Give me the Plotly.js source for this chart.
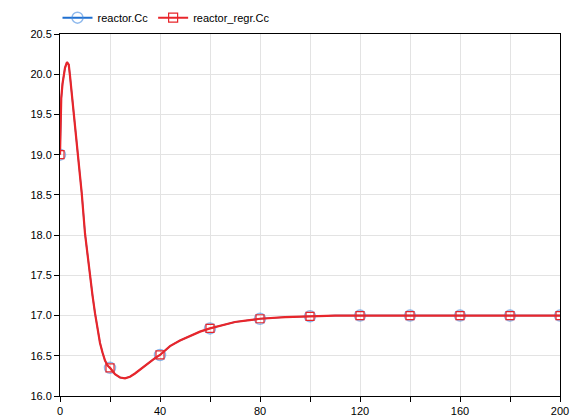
<!DOCTYPE html>
<html>
<head>
<meta charset="utf-8">
<script src="https://cdn.plot.ly/plotly-3.0.1.min.js"></script>
<style>
  html, body { margin: 0; padding: 0; background: #fff; }
  #plot { width: 584px; height: 420px; }
</style>
</head>
<body>
<div id="plot"></div>
<script>
// curve (time, Cc)
var time = [0, 0.2, 0.5, 1, 1.5, 2, 2.8, 3.5, 4, 4.5, 5, 5.6, 6.3, 7, 7.7, 8.7, 10, 11, 12, 13, 14, 15, 16, 17, 18, 19, 20,
  22, 24, 26, 28, 30, 32, 34, 36, 38, 40, 44, 48, 52, 56, 60, 65, 70, 75, 80, 90, 100, 110, 120, 140, 160, 180, 200];
var reactorCc = [19.0, 19.5, 19.7, 19.88, 20.0, 20.08, 20.15, 20.12, 19.98, 19.83, 19.66, 19.47, 19.22, 19.0, 18.83, 18.52, 18.02, 17.75, 17.48, 17.25, 17.03, 16.84, 16.66, 16.54, 16.44, 16.38, 16.35,
  16.27, 16.23, 16.22, 16.24, 16.28, 16.33, 16.38, 16.43, 16.47, 16.51, 16.62, 16.69, 16.75, 16.8, 16.84, 16.88, 16.92, 16.94, 16.96, 16.98, 16.99, 17.0, 17.0, 17.0, 17.0, 17.0, 17.0];
var regrCc = reactorCc.slice();

// marker points every 20 s
var markTime = [0, 20, 40, 60, 80, 100, 120, 140, 160, 180, 200];
var markCc = [19.0, 16.35, 16.51, 16.84, 16.96, 16.99, 17.0, 17.0, 17.0, 17.0, 17.0];

var xTicks = [0, 20, 40, 60, 80, 100, 120, 140, 160, 180, 200];
var xLabels = ["0", "", "40", "", "80", "", "120", "", "160", "", "200"];

var blue = "#1f6fd0";
var blueMark = "rgba(70,140,225,0.6)";
var red = "#e8262b";

var data = [
  { x: time, y: reactorCc, mode: "lines", type: "scatter", showlegend: false, hoverinfo: "skip",
    line: { color: blue, width: 1.4 } },
  { x: markTime, y: markCc, mode: "markers", type: "scatter", showlegend: false,
    marker: { symbol: "circle-open", size: 11, color: blueMark, line: { width: 1.5 } } },
  { x: time, y: regrCc, mode: "lines", type: "scatter", showlegend: false, hoverinfo: "skip",
    line: { color: red, width: 2.2 } },
  { x: markTime, y: markCc, mode: "markers", type: "scatter", showlegend: false,
    marker: { symbol: "square-open", size: 8, color: red, line: { width: 1.2 } } },
  // legend entries
  { x: [null], y: [null], mode: "lines+markers", type: "scatter", name: "reactor.Cc",
    line: { color: blue, width: 2 },
    marker: { symbol: "circle-open", size: 11, color: blueMark, line: { width: 1.5 } } },
  { x: [null], y: [null], mode: "lines+markers", type: "scatter", name: "reactor_regr.Cc",
    line: { color: red, width: 2 },
    marker: { symbol: "square-open", size: 9, color: red, line: { width: 1.2 } } }
];

var layout = {
  width: 584,
  height: 420,
  margin: { l: 60, r: 24, t: 34, b: 24, autoexpand: false },
  paper_bgcolor: "#fff",
  plot_bgcolor: "#fff",
  font: { family: "Liberation Sans, Arial, sans-serif", size: 11, color: "#000" },
  showlegend: true,
  legend: {
    orientation: "h",
    x: -0.005, xanchor: "left",
    y: 1.005, yanchor: "bottom",
    font: { size: 11 },
    bgcolor: "rgba(0,0,0,0)"
  },
  xaxis: {
    range: [0, 200],
    tickmode: "array",
    tickvals: xTicks,
    ticktext: xLabels,
    ticks: "outside",
    ticklen: 5,
    tickcolor: "#000",
    showline: true,
    linecolor: "#000",
    linewidth: 1,
    mirror: true,
    showgrid: true,
    gridcolor: "#e3e3e3",
    zeroline: false
  },
  yaxis: {
    range: [16, 20.5],
    dtick: 0.5,
    tick0: 16,
    tickformat: ".1f",
    ticks: "outside",
    ticklen: 5,
    tickcolor: "#000",
    showline: true,
    linecolor: "#000",
    linewidth: 1,
    mirror: true,
    showgrid: true,
    gridcolor: "#e3e3e3",
    zeroline: false
  }
};

Plotly.newPlot("plot", data, layout, { displayModeBar: false, staticPlot: true });
</script>
</body>
</html>
